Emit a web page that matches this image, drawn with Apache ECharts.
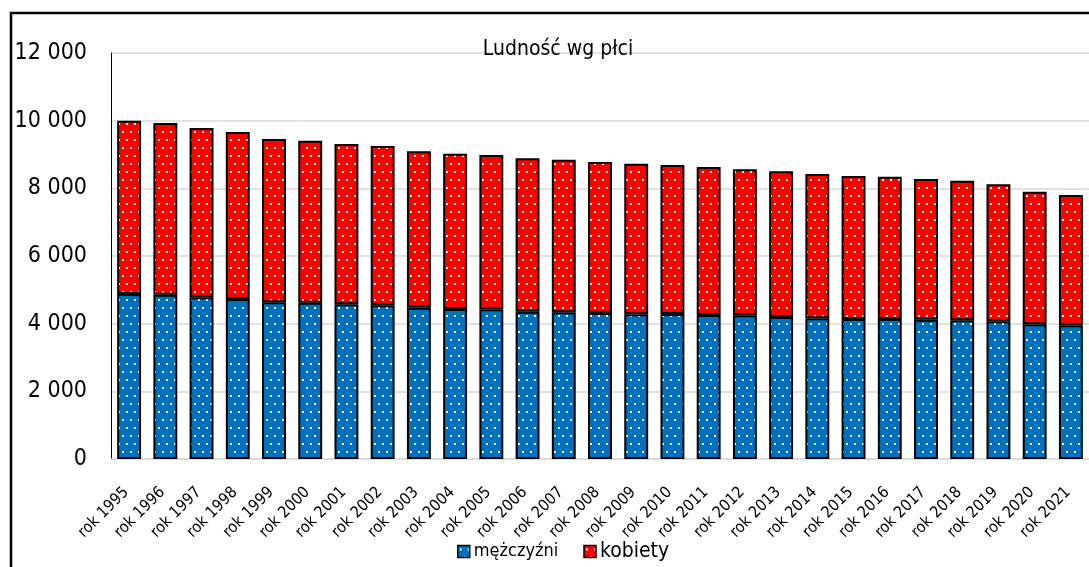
<!DOCTYPE html>
<html>
<head>
<meta charset="utf-8">
<script src="https://cdn.jsdelivr.net/npm/echarts@6/dist/echarts.min.js"></script>
<style>
html,body{margin:0;padding:0;background:#fff;}
#chart{width:1089px;height:567px;}
</style>
</head>
<body>
<div id="chart"></div>
<script>
const categories = ['rok 1995','rok 1996','rok 1997','rok 1998','rok 1999','rok 2000','rok 2001','rok 2002','rok 2003','rok 2004','rok 2005','rok 2006','rok 2007','rok 2008','rok 2009','rok 2010','rok 2011','rok 2012','rok 2013','rok 2014','rok 2015','rok 2016','rok 2017','rok 2018','rok 2019','rok 2020','rok 2021'];
const men = [4877,4857,4780,4730,4631,4621,4572,4542,4473,4434,4424,4350,4335,4316,4276,4286,4257,4247,4197,4158,4138,4138,4118,4099,4069,3981,3952];
const women = [5123,5075,5004,4936,4828,4788,4739,4710,4622,4591,4562,4538,4513,4463,4453,4404,4374,4316,4307,4266,4227,4207,4159,4128,4051,3920,3852];
const yTicks = [0,2000,4000,6000,8000,10000,12000];
const seriesNames = ['mężczyźni','kobiety'];
const titleText = 'Ludność wg płci';

const FONT = "'DejaVu Sans Condensed', 'DejaVu Sans', sans-serif";

function makePattern(bg){
  const c = document.createElement('canvas');
  c.width = 8; c.height = 16;
  const ctx = c.getContext('2d');
  ctx.fillStyle = bg; ctx.fillRect(0,0,8,16);
  ctx.fillStyle = '#ffffff';
  ctx.fillRect(2,3,2,2);
  ctx.fillRect(6,11,2,2);
  return {image: c, repeat: 'repeat'};
}

const chart = echarts.init(document.getElementById('chart'), null, {renderer:'canvas'});
const fmt = v => String(v).replace(/\B(?=(\d{3})+(?!\d))/g, ' ');

chart.setOption({
  animation:false,
  title:{text:titleText,left:553,top:34,textAlign:'center',textStyle:{fontFamily:FONT,fontSize:21,fontWeight:'normal',color:'#000'}},
  graphic:[{type:'rect',shape:{x:11,y:13,width:1200,height:700},style:{fill:'none',stroke:'#000',lineWidth:2.5},z:100}],
  grid:{left:111,top:53,width:982,height:406},
  legend:{
    data:seriesNames,
    left:452, top:536,
    itemWidth:12, itemHeight:12, itemGap:25,
    icon:'rect',
    itemStyle:{borderColor:'#000',borderWidth:1.5},
    formatter: n => n==='kobiety' ? '{b|'+n+'}' : '{a|'+n+'}',
    textStyle:{fontFamily:FONT,color:'#000',padding:[0,0,0,-1],
      rich:{a:{fontSize:18,fontFamily:FONT,color:'#000'},b:{fontSize:21,fontFamily:FONT,color:'#000'}}}
  },
  xAxis:{
    type:'category',data:categories,
    axisLine:{show:true,lineStyle:{color:'#d9d9d9',width:1.5}},
    axisTick:{show:false},
    axisLabel:{rotate:45,interval:0,margin:28,padding:[0,4,0,0],fontFamily:FONT,fontSize:16,color:'#000'}
  },
  yAxis:{
    type:'value',min:0,max:12000,interval:2000,
    axisLine:{show:true,lineStyle:{color:'#000',width:1}},
    axisTick:{show:false},
    splitLine:{lineStyle:{color:'#d9d9d9',width:1.5}},
    axisLabel:{margin:24,fontFamily:FONT,fontSize:23,color:'#000',formatter:v=>fmt(v)}
  },
  series:[
    {name:seriesNames[0],type:'bar',stack:'t',data:men,barWidth:'66%',
     itemStyle:{color:makePattern('#0070c0'),borderColor:'#000',borderWidth:2}},
    {name:seriesNames[1],type:'bar',stack:'t',data:women,barWidth:'66%',
     itemStyle:{color:makePattern('#ff0000'),borderColor:'#000',borderWidth:2}}
  ]
});
</script>
</body>
</html>
